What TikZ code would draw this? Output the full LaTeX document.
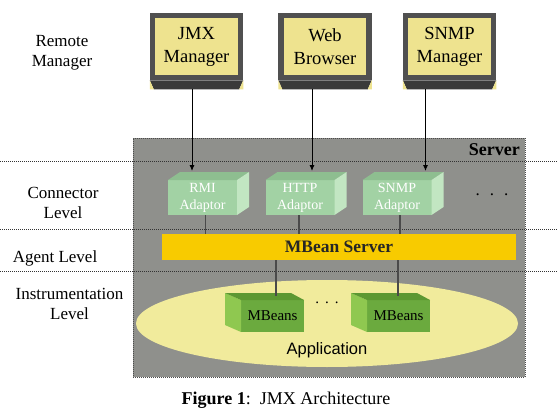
\documentclass[tikz,border=0pt]{standalone}
\usepackage{fontspec}
\setmainfont{Liberation Serif}
\setsansfont{Liberation Sans}
\usetikzlibrary{arrows.meta,calc,shapes.geometric}
\definecolor{mgrY}{HTML}{EEE38F}
\definecolor{frameC}{HTML}{505050}
\definecolor{bevelC}{HTML}{3A3A3A}
\definecolor{srvC}{HTML}{8F908C}
\definecolor{adF}{HTML}{A2D2A4}
\definecolor{adT}{HTML}{8EBE90}
\definecolor{adS}{HTML}{C2E6C2}
\definecolor{goldC}{HTML}{F8CB00}
\definecolor{appC}{HTML}{F1EB9C}
\definecolor{mbF}{HTML}{6BAA3E}
\definecolor{mbT}{HTML}{5C9832}
\definecolor{mbL}{HTML}{8FC850}
\definecolor{lineC}{HTML}{4A4A4A}
\begin{document}
\begin{tikzpicture}[x=1pt,y=-1pt,
  mgr/.style={fill=mgrY, draw=frameC, line width=5.5pt, minimum width=88pt, minimum height=62pt,
    inner sep=0pt, align=center, font=\fontsize{18.5}{23}\selectfont},
  lbl/.style={align=center, inner sep=0pt, font=\fontsize{17}{20}\selectfont},
  adaptor/.style={fill=adF, minimum width=69pt, minimum height=35pt, inner sep=0pt, outer sep=0pt,
    align=center, text=white, font=\fontsize{14}{17}\selectfont},
  mbean/.style={fill=mbF, minimum width=63pt, minimum height=32pt, inner sep=0pt, outer sep=0pt,
    font=\fontsize{15}{18}\selectfont},
  arr/.style={draw=black, line width=0.9pt, -{Latex[length=6pt,width=5pt]}},
  conn/.style={draw=lineC, line width=1.1pt},
  levline/.style={draw=black!80, line width=0.8pt, dash pattern=on 1pt off 1pt}]
\useasboundingbox (0,0) rectangle (558,415);

% server area
\node[fill=srvC, draw=black!70, line width=0.8pt, dash pattern=on 1pt off 1pt,
  minimum width=392pt, minimum height=239pt, inner sep=0pt, anchor=north west] (srv) at (133,138) {};
\node[anchor=east, inner sep=0pt, font=\bfseries\fontsize{18}{20}\selectfont] (srvlbl) at (520,150) {Server};

% level separators
\coordinate (l1a) at (0,161); \coordinate (l1b) at (558,161);
\coordinate (l2a) at (0,229); \coordinate (l2b) at (558,229);
\coordinate (l3a) at (0,271); \coordinate (l3b) at (558,271);
\draw[levline] (l1a) -- (l1b);
\draw[levline] (l2a) -- (l2b);
\draw[levline] (l3a) -- (l3b);

% left labels
\node[lbl] (rm) at (62,53) {Remote\\Manager};
\node[lbl] (cl) at (63,203) {Connector\\Level};
\node[lbl] (al) at (55,258) {Agent Level};
\node[lbl] (il) at (69.5,304) {Instrumentation\\Level};

% managers
\node[mgr] (jmx) at (196.5,46.5) {JMX\\Manager};
\node[mgr] (web) at (325,46.5) {Web\\Browser};
\node[mgr] (snmpm) at (449.5,46.5) {SNMP\\Manager};
\foreach \n in {jmx,web,snmpm}{
  \fill[bevelC] (\n.south west) -- (\n.south east) -- ++(-4,9) -- ($(\n.south west)+(4,9)$) -- cycle;
  \fill[mgrY] (\n.south west) -- ++(4,9) -- ++(-4,0) -- cycle;
  \fill[mgrY] (\n.south east) -- ++(-4,9) -- ++(4,0) -- cycle;
}

% application ellipse
\node[ellipse, fill=appC, minimum width=382pt, minimum height=87pt, inner sep=0pt] (app) at (327,323.5) {};
\node[font=\sffamily\fontsize{16.5}{18}\selectfont, inner sep=0pt] (applbl) at (327,350) {Application};

% MBean server
\node[fill=goldC, minimum width=354pt, minimum height=26pt, inner sep=0pt, outer sep=0pt,
  font=\bfseries\fontsize{17.5}{19}\selectfont, text=black!85] (mbs) at (339,247) {MBean Server};

% adaptors
\node[adaptor] (rmi) at (202.5,197.5) {RMI\\Adaptor};
\node[adaptor] (http) at (300,197.5) {HTTP\\Adaptor};
\node[adaptor] (snmpa) at (397,197.5) {SNMP\\Adaptor};
\foreach \n in {rmi,http,snmpa}{
  \fill[adT] (\n.north west) -- (\n.north east) -- ++(12,-8) -- ($(\n.north west)+(12,-8)$) -- cycle;
  \fill[adS] (\n.north east) -- (\n.south east) -- ++(12,-8) -- ($(\n.north east)+(12,-8)$) -- cycle;
}
\node[inner sep=0pt, font=\fontsize{17}{18}\selectfont] (cdots) at (492,195) {.\hspace{10pt}.\hspace{10pt}.};

% MBeans
\node[mbean] (mb1) at (272.5,316) {MBeans};
\node[mbean] (mb2) at (398.5,316) {MBeans};
\foreach \n in {mb1,mb2}{
  \fill[mbL] (\n.north west) -- (\n.south west) -- ++(-16,-7) -- ($(\n.north west)+(-16,-7)$) -- cycle;
  \fill[mbT] (\n.north west) -- (\n.north east) -- ++(-13,-7) -- ($(\n.north west)+(-16,-7)$) -- cycle;
}
\node[inner sep=0pt, font=\fontsize{15}{16}\selectfont] (mdots) at (327,303) {.\hspace{6pt}.\hspace{6pt}.};

% arrows from managers to adaptors
\coordinate (a1) at ($(jmx.south)+(-4.5,9)$);
\coordinate (a2) at ($(web.south)+(-13,9)$);
\coordinate (a3) at ($(snmpm.south)+(-24,9)$);
\coordinate (t1) at (a1 |- rmi.north);
\coordinate (t2) at (a2 |- http.north);
\coordinate (t3) at (a3 |- snmpa.north);
\draw[arr] (a1) -- ([yshift=9pt]t1);
\draw[arr] (a2) -- ([yshift=9pt]t2);
\draw[arr] (a3) -- ([yshift=9pt]t3);

% adaptors to MBean server
\coordinate (c1) at ($(rmi.south)+(3,0)$);
\coordinate (c2) at ($(http.south)+(-1,0)$);
\coordinate (c3) at ($(snmpa.south)+(3,0)$);
\draw[conn] (c1) -- (c1 |- mbs.north);
\draw[conn] (c2) -- (c2 |- mbs.north);
\draw[conn] (c3) -- (c3 |- mbs.north);

% MBean server to MBeans
\coordinate (m1) at ($(mb1.north)+(3.5,-4)$);
\coordinate (m2) at ($(mb2.north)+(-0.5,-4)$);
\draw[conn] (mbs.south -| m1) -- (m1);
\draw[conn] (mbs.south -| m2) -- (m2);

% caption
\node[inner sep=0pt, font=\fontsize{18}{20}\selectfont] (cap) at (286,400) {\textbf{Figure 1}:\ \ JMX Architecture};
\end{tikzpicture}
\end{document}
